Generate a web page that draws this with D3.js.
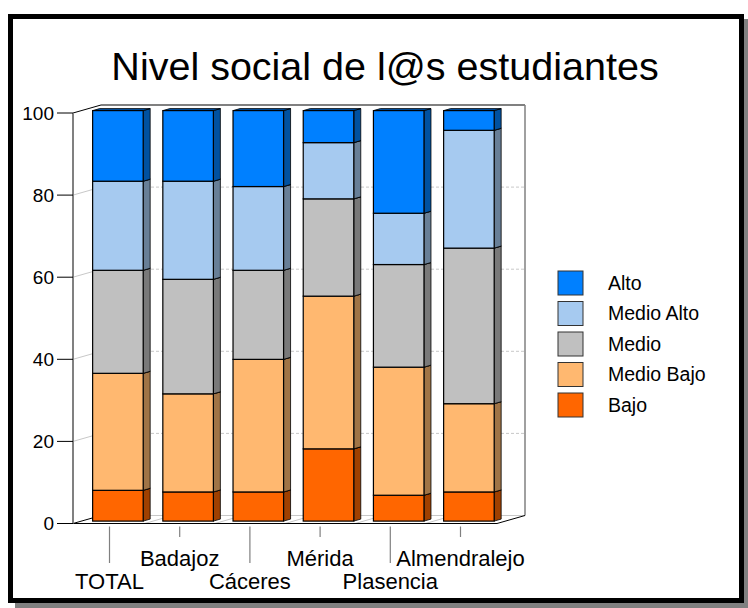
<!DOCTYPE html>
<html lang="es">
<head>
<meta charset="UTF-8">
<title>Nivel social de l@s estudiantes</title>
<script src="https://d3js.org/d3.v7.min.js"></script>
<style>
    body { margin: 0; background: #fff; font-family: Arial, "Liberation Sans", sans-serif; }
    svg { display: block; }
    text { fill: #000; }
</style>
</head>
<body>
<div id="container"></div>
<script>
// data (percent per category)
const categories = ["TOTAL", "Badajoz", "Cáceres", "Mérida", "Plasencia", "Almendralejo"];
const bajo      = [7.5, 7.1, 7.1, 17.6, 6.3, 7.1];
const medioBajo = [28.5, 23.9, 32.3, 37.2, 31.2, 21.5];
const medio     = [25.1, 27.9, 21.7, 23.7, 25.0, 37.9];
const medioAlto = [21.7, 23.9, 20.4, 13.7, 12.5, 28.7];
const alto      = [17.2, 17.2, 18.5, 7.8, 25.0, 4.8];
const seriesNames = ["Bajo", "Medio Bajo", "Medio", "Medio Alto", "Alto"];
const yTicks = [0, 20, 40, 60, 80, 100];

const colors = {
    "Bajo": "#FF6600",
    "Medio Bajo": "#FFB870",
    "Medio": "#C0C0C0",
    "Medio Alto": "#A6CAF0",
    "Alto": "#0080FF"
};

// table for d3.stack
const table = categories.map((c, i) => ({
    cat: c,
    "Bajo": bajo[i],
    "Medio Bajo": medioBajo[i],
    "Medio": medio[i],
    "Medio Alto": medioAlto[i],
    "Alto": alto[i]
}));

const W = 748, H = 608;
const svg = d3.select('#container').append('svg')
    .attr('width', W).attr('height', H);

// frame with shadow
svg.append('rect').attr('x', 15).attr('y', 19).attr('width', 733).attr('height', 589).attr('fill', '#808080');
svg.append('rect').attr('x', 10.5).attr('y', 16.5).attr('width', 731).attr('height', 584)
    .attr('fill', '#fff').attr('stroke', '#000').attr('stroke-width', 5);

// title
svg.append('text')
    .attr('x', 385).attr('y', 80)
    .attr('text-anchor', 'middle')
    .style('font-size', '39.5px')
    .text('Nivel social de l@s estudiantes');

// 3d geometry
const depth = [28, -8];        // wall depth
const barOff = [8.4, -2.4];    // bars sit a bit behind the front
const barDepth = [7, -2];

const x = d3.scaleBand()
    .domain(categories)
    .range([73, 497])
    .paddingInner(0.28)
    .paddingOuter(0.16);

const y = d3.scaleLinear()
    .domain([0, 100])
    .range([523.5, 113]);

const x0 = 73, x1 = 497;
const g = svg.append('g');

// back wall and left wall gridlines
yTicks.forEach(t => {
    if (t === 0) return;
    g.append('line')
        .attr('x1', x0 + depth[0]).attr('y1', y(t) + depth[1])
        .attr('x2', x1 + depth[0]).attr('y2', y(t) + depth[1])
        .attr('stroke', t === 100 ? '#808080' : '#c8c8c8')
        .attr('stroke-width', t === 100 ? 2 : 1)
        .attr('stroke-dasharray', t === 100 ? null : '3,2');
    g.append('line')
        .attr('x1', x0).attr('y1', y(t))
        .attr('x2', x0 + depth[0]).attr('y2', y(t) + depth[1])
        .attr('stroke', t === 100 ? '#000' : '#c8c8c8')
        .attr('stroke-width', 1);
});

// right side of back wall
g.append('line')
    .attr('x1', x1 + depth[0]).attr('y1', y(100) + depth[1])
    .attr('x2', x1 + depth[0]).attr('y2', y(0) + depth[1])
    .attr('stroke', '#808080').attr('stroke-width', 1.5);

// floor
const step = x.step();
categories.forEach((c, i) => {
    const bx = x(c) - step * x.paddingInner() / 2;
    if (i === 0) return;
    g.append('line')
        .attr('x1', bx).attr('y1', y(0))
        .attr('x2', bx + depth[0]).attr('y2', y(0) + depth[1])
        .attr('stroke', '#c8c8c8');
});
g.append('line')
    .attr('x1', x0 + depth[0]).attr('y1', y(0) + depth[1])
    .attr('x2', x1 + depth[0]).attr('y2', y(0) + depth[1])
    .attr('stroke', '#c8c8c8');
g.append('path')
    .attr('d', `M${x0 + depth[0]},${y(0) + depth[1]} L${x0},${y(0)} L${x1},${y(0)} L${x1 + depth[0]},${y(0) + depth[1]}`)
    .attr('fill', 'none').attr('stroke', '#000').attr('stroke-width', 1);

// y axis line
g.append('line')
    .attr('x1', x0).attr('y1', y(100))
    .attr('x2', x0).attr('y2', y(0))
    .attr('stroke', '#808080').attr('stroke-width', 2);

// y ticks + labels
const yAxis = svg.append('g');
yTicks.forEach(t => {
    yAxis.append('line')
        .attr('x1', x0 - 16).attr('x2', x0)
        .attr('y1', y(t)).attr('y2', y(t))
        .attr('stroke', '#000');
    yAxis.append('text')
        .attr('x', 54).attr('y', y(t))
        .attr('dy', '0.35em')
        .attr('text-anchor', 'end')
        .style('font-size', '19px')
        .text(t);
});

// stacked 3d bars
const stack = d3.stack().keys(seriesNames)(table);
const shade = c => d3.color(c).darker(1.3).formatHex();
const bw = x.bandwidth();

stack.forEach(layer => {
    const col = colors[layer.key];
    layer.forEach(d => {
        const fx = x(d.data.cat) + barOff[0];
        const yt = y(d[1]) + barOff[1];
        const yb = y(d[0]) + barOff[1];
        const bars = g.append('g');
        // side face
        bars.append('path')
            .attr('d', `M${fx + bw},${yb} L${fx + bw + barDepth[0]},${yb + barDepth[1]} L${fx + bw + barDepth[0]},${yt + barDepth[1]} L${fx + bw},${yt} Z`)
            .attr('fill', shade(col)).attr('stroke', '#000').attr('stroke-width', 0.8);
        // top face
        bars.append('path')
            .attr('d', `M${fx},${yt} L${fx + barDepth[0]},${yt + barDepth[1]} L${fx + bw + barDepth[0]},${yt + barDepth[1]} L${fx + bw},${yt} Z`)
            .attr('fill', shade(col)).attr('stroke', '#000').attr('stroke-width', 0.8);
        // front face
        bars.append('rect')
            .attr('x', fx).attr('y', yt)
            .attr('width', bw).attr('height', yb - yt)
            .attr('fill', col).attr('stroke', '#000').attr('stroke-width', 1.2);
    });
});

// category ticks and labels (staggered)
categories.forEach((c, i) => {
    const cx = x(c) + bw / 2;
    const longTick = i % 2 === 0;
    svg.append('line')
        .attr('x1', cx).attr('x2', cx)
        .attr('y1', y(0) + 3).attr('y2', longTick ? 563 : 537)
        .attr('stroke', '#808080').attr('stroke-width', 1.2);
    svg.append('text')
        .attr('x', cx).attr('y', longTick ? 589 : 566)
        .attr('text-anchor', 'middle')
        .style('font-size', '22px')
        .text(c);
});

// legend
const legendOrder = seriesNames.slice().reverse();
const legend = svg.append('g').attr('transform', 'translate(558,271)');
legendOrder.forEach((k, i) => {
    legend.append('rect')
        .attr('x', 0).attr('y', i * 30.5)
        .attr('width', 25).attr('height', 24)
        .attr('fill', colors[k]).attr('stroke', '#333').attr('stroke-width', 1);
    legend.append('text')
        .attr('x', 50).attr('y', i * 30.5 + 12)
        .attr('dy', '0.35em')
        .style('font-size', '19.5px')
        .text(k);
});
</script>
</body>
</html>
